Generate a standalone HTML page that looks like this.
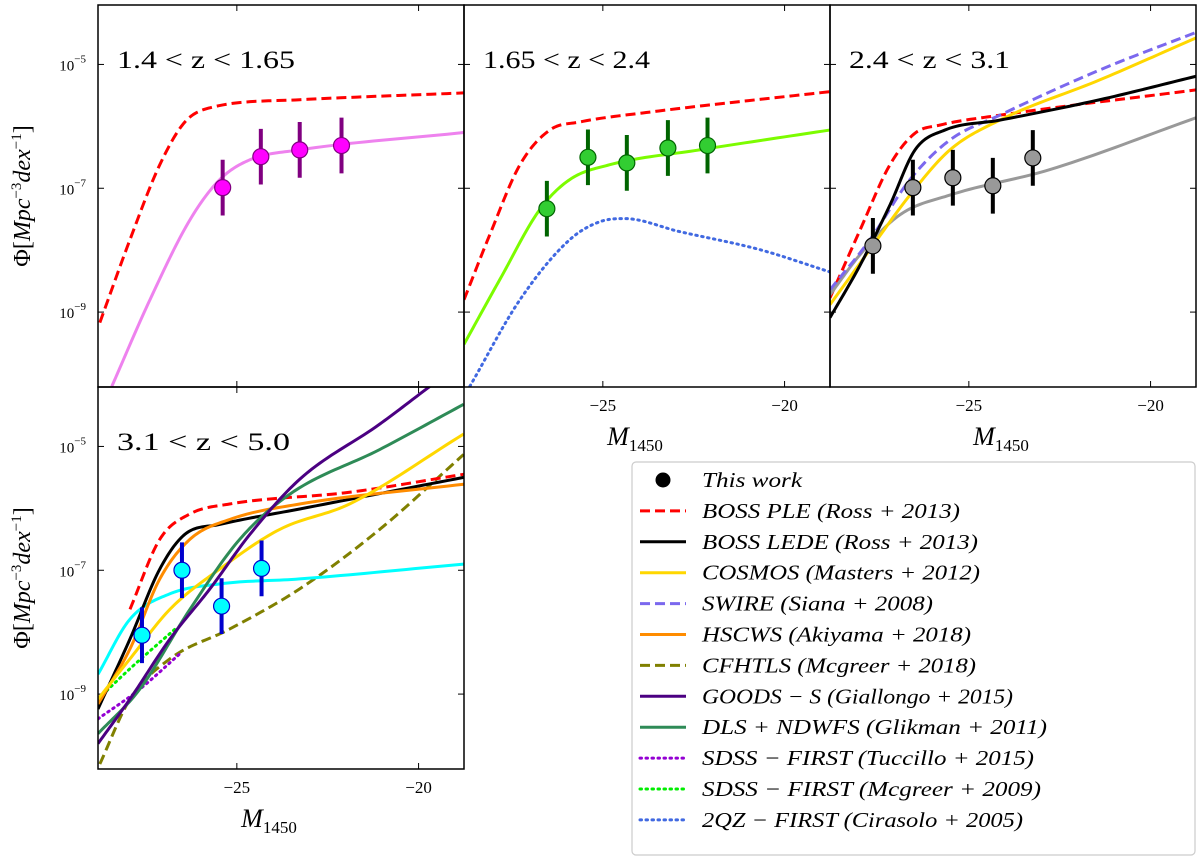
<!DOCTYPE html>
<html><head><meta charset="utf-8"><style>
body{margin:0;background:#fff;}
svg text{font-family:"Liberation Serif",serif;}
</style></head><body>
<svg id="c" width="1200" height="860" xmlns="http://www.w3.org/2000/svg"></svg>
<script>
const xTicks=[-25,-20];
const yTicks=[-5,-7,-9];
const panelTitles=["1.4 < z < 1.65","1.65 < z < 2.4","2.4 < z < 3.1","3.1 < z < 5.0"];
const p1Red=[[-28.77,-9.17],[-27.94,-7.83],[-27.12,-6.62],[-26.43,-5.93],[-25.74,-5.70],[-23.27,-5.57],[-18.76,-5.46]];
const p1Mag=[[-28.44,-10.2],[-27.39,-8.80],[-26.29,-7.51],[-25.47,-6.86],[-24.64,-6.54],[-23.27,-6.38],[-18.76,-6.10]];
const p1PtsM=[-25.39,-24.34,-23.27,-22.12];
const p1PtsPhi=[-6.99,-6.49,-6.38,-6.31];
const p2Red=[[-28.82,-8.80],[-28.11,-7.75],[-27.28,-6.62],[-26.46,-6.06],[-25.64,-5.93],[-23.71,-5.77],[-18.76,-5.44]];
const p2Green=[[-28.82,-9.52],[-27.83,-8.47],[-26.73,-7.34],[-25.91,-6.86],[-24.81,-6.62],[-22.34,-6.38],[-18.76,-6.06]];
const p2Blue=[[-28.66,-10.2],[-27.28,-8.80],[-25.91,-7.83],[-25.08,-7.54],[-24.40,-7.49],[-22.89,-7.70],[-20.69,-7.99],[-18.76,-8.35]];
const p2PtsM=[-26.54,-25.41,-24.34,-23.21,-22.12];
const p2PtsPhi=[-7.33,-6.50,-6.59,-6.35,-6.31];
const p3Red=[[-28.82,-8.77],[-27.99,-7.67],[-27.17,-6.62],[-26.48,-6.11],[-25.80,-5.98],[-24.15,-5.82],[-18.74,-5.41]];
const p3Black=[[-28.82,-9.09],[-27.99,-8.24],[-27.17,-7.27],[-26.48,-6.38],[-25.66,-6.06],[-24.15,-5.90],[-21.40,-5.57],[-18.74,-5.19]];
const p3Yellow=[[-28.82,-8.88],[-27.72,-7.99],[-26.62,-7.11],[-25.52,-6.38],[-24.15,-5.90],[-21.40,-5.25],[-18.74,-4.57]];
const p3Swire=[[-28.82,-8.64],[-27.72,-7.83],[-26.62,-6.86],[-25.52,-6.22],[-24.15,-5.82],[-21.40,-5.09],[-18.74,-4.48]];
const p3Gray=[[-28.82,-8.72],[-27.99,-8.07],[-26.90,-7.43],[-25.52,-7.11],[-22.78,-6.70],[-18.74,-5.86]];
const p3PtsM=[-27.64,-26.54,-25.44,-24.34,-23.24];
const p3PtsPhi=[-7.93,-6.99,-6.83,-6.96,-6.51];
const p4Red=[[-27.94,-7.63],[-27.12,-6.50],[-26.29,-6.09],[-25.20,-5.93],[-21.90,-5.74],[-18.76,-5.45]];
const p4Black=[[-28.82,-9.24],[-27.94,-8.11],[-27.12,-6.98],[-26.43,-6.42],[-25.47,-6.26],[-23.27,-6.01],[-18.76,-5.50]];
const p4Orange=[[-28.82,-9.16],[-27.94,-8.27],[-27.12,-7.14],[-26.29,-6.50],[-25.20,-6.18],[-23.27,-5.93],[-18.76,-5.61]];
const p4Yellow=[[-28.82,-9.08],[-27.94,-8.43],[-26.84,-7.63],[-25.47,-6.98],[-23.82,-6.34],[-21.90,-5.93],[-18.76,-4.80]];
const p4Olive=[[-28.77,-10.13],[-27.94,-9.08],[-26.84,-8.43],[-25.20,-7.95],[-23.27,-7.30],[-21.07,-6.34],[-18.76,-5.13]];
const p4Indigo=[[-28.82,-9.80],[-27.94,-9.08],[-26.84,-8.11],[-25.74,-7.30],[-24.64,-6.42],[-23.27,-5.53],[-21.07,-4.64],[-19.69,-4.03]];
const p4Teal=[[-28.82,-9.64],[-27.67,-8.92],[-26.29,-7.63],[-24.92,-6.50],[-23.54,-5.77],[-21.07,-5.05],[-18.76,-4.32]];
const p4Cyan=[[-28.82,-8.68],[-27.94,-7.79],[-26.84,-7.38],[-25.47,-7.22],[-23.27,-7.14],[-18.76,-6.90]];
const p4Tucc=[[-28.82,-9.40],[-27.67,-8.92],[-26.57,-8.35]];
const p4Mcg=[[-28.82,-9.08],[-27.94,-8.59],[-26.70,-7.95]];
const p4PtsM=[-27.61,-26.51,-25.42,-24.32];
const p4PtsPhi=[-8.05,-7.00,-7.58,-6.97];
const errDex=0.45;

const svg=document.getElementById('c');
const NS="http://www.w3.org/2000/svg";
function mk(tag,attrs,parent){const e=document.createElementNS(NS,tag);for(const k in attrs)e.setAttribute(k,attrs[k]);(parent||svg).appendChild(e);return e;}
const xMin=-28.82,xMax=-18.75,yMin=-10.21,yMax=-4.04;
const panels=[{x:98,y:5},{x:464,y:5},{x:830,y:5},{x:98,y:387}];
const PW=366,PH=382;
const titleLens=[178,167,161,173];
function sx(p,m){return p.x+(m-xMin)/(xMax-xMin)*PW;}
function sy(p,v){return p.y+(yMax-v)/(yMax-yMin)*PH;}
function monotone(pts){
  const n=pts.length,xs=pts.map(a=>a[0]),ys=pts.map(a=>a[1]);
  const d=[],m=[];
  for(let i=0;i<n-1;i++)d.push((ys[i+1]-ys[i])/(xs[i+1]-xs[i]));
  m[0]=d[0];m[n-1]=d[n-2];
  for(let i=1;i<n-1;i++){m[i]=(d[i-1]*d[i]<=0)?0:(d[i-1]+d[i])/2;}
  for(let i=0;i<n-1;i++){
    if(d[i]===0){m[i]=0;m[i+1]=0;continue;}
    const a=m[i]/d[i],b=m[i+1]/d[i],s=a*a+b*b;
    if(s>9){const t=3/Math.sqrt(s);m[i]=t*a*d[i];m[i+1]=t*b*d[i];}
  }
  const out=[];
  for(let i=0;i<n-1;i++){
    const h=xs[i+1]-xs[i];
    for(let k=0;k<20;k++){const t=k/20,t2=t*t,t3=t2*t;
      const y=(2*t3-3*t2+1)*ys[i]+(t3-2*t2+t)*h*m[i]+(-2*t3+3*t2)*ys[i+1]+(t3-t2)*h*m[i+1];
      out.push([xs[i]+t*h,y]);}
  }
  out.push([xs[n-1],ys[n-1]]);
  return out;
}
function path(p,pts){
  return monotone(pts).map((a,i)=>(i?'L':'M')+sx(p,a[0]).toFixed(2)+','+sy(p,a[1]).toFixed(2)).join('');
}
const clipDefs=mk('defs',{});
panels.forEach((p,i)=>{const cp=mk('clipPath',{id:'cl'+i},clipDefs);mk('rect',{x:p.x,y:p.y,width:PW,height:PH},cp);});
function curve(pi,pts,color,style,name){
  const p=panels[pi];
  const e=mk('path',{d:path(p,pts),fill:'none',stroke:color,'stroke-width':3,'clip-path':`url(#cl${pi})`});
  if(style==='dash')e.setAttribute('stroke-dasharray','10,5');
  if(style==='dot'){e.setAttribute('stroke-dasharray','1.5,4.5');e.setAttribute('stroke-linecap','round');}
  
  
}
function points(pi,ms,vs,fill,ec,name){
  const p=panels[pi];
  ms.forEach((m,i)=>{
    const g=mk('g',{});
    
    
    mk('line',{x1:sx(p,m),x2:sx(p,m),y1:sy(p,vs[i]+errDex),y2:sy(p,vs[i]-errDex),stroke:ec,'stroke-width':4},g);
    mk('circle',{cx:sx(p,m),cy:sy(p,vs[i]),r:8,fill:fill,stroke:ec,'stroke-width':1.2},g);
  });
}
panels.forEach((p,i)=>{
  const g=mk('g',{});
  
  
  yTicks.forEach(t=>{const y=sy(p,t);
    mk('line',{x1:p.x,x2:p.x+6,y1:y,y2:y,stroke:'#000','stroke-width':1},g);
    mk('line',{x1:p.x+PW,x2:p.x+PW-6,y1:y,y2:y,stroke:'#000','stroke-width':1},g);
    if(i===0||i===3){
      const tx=mk('text',{x:p.x-12,y:y+6,'font-size':15,'text-anchor':'end'},g);
      tx.textContent='10';
      const s=mk('tspan',{dy:-8,'font-size':11},tx);s.textContent='\u2212'+(-t);
      
      
    }
  });
  xTicks.forEach(t=>{const x=sx(p,t);
    mk('line',{x1:x,x2:x,y1:p.y+PH,y2:p.y+PH-6,stroke:'#000','stroke-width':1},g);
    mk('line',{x1:x,x2:x,y1:p.y,y2:p.y+6,stroke:'#000','stroke-width':1},g);
    if(i!==0){
      const tx=mk('text',{x:x,y:p.y+PH+24,'font-size':17,'text-anchor':'middle'},g);
      tx.textContent='\u2212'+(-t);
      
      
    }
  });
  const tt=mk('text',{x:p.x+19,y:p.y+63,'font-size':25,textLength:titleLens[i],lengthAdjust:'spacingAndGlyphs'},g);
  tt.textContent=panelTitles[i];
  
  
  if(i>0){const xl=mk('text',{x:p.x+PW/2-12,y:p.y+PH+58,'font-size':26,'font-style':'italic','text-anchor':'middle'},g);
    xl.textContent='M';const s=mk('tspan',{'font-size':17,'font-style':'normal',dy:6},xl);s.textContent='1450';
    }
  if(i===0||i===3){const cx=30,cy=p.y+PH/2;
    const yl=mk('text',{x:cx,y:cy,'font-size':24,'text-anchor':'middle',transform:`rotate(-90 ${cx} ${cy})`},g);
    yl.innerHTML='Φ[<tspan font-style="italic">Mpc</tspan><tspan dy="-9" font-size="15">−3</tspan><tspan dy="9" font-style="italic">dex</tspan><tspan dy="-9" font-size="15">−1</tspan><tspan dy="9">]</tspan>';
    }
});
curve(0,p1Red,'#ff0000','dash','boss-ple-curve');
curve(0,p1Mag,'#ee82ee','solid','fit-curve-z1');
points(0,p1PtsM,p1PtsPhi,'#ff00ff','#800080','data-point-z1');
curve(1,p2Red,'#ff0000','dash','boss-ple-curve');
curve(1,p2Blue,'#4169e1','dot','2qz-first-curve');
curve(1,p2Green,'#7cfc00','solid','fit-curve-z2');
points(1,p2PtsM,p2PtsPhi,'#32cd32','#006400','data-point-z2');
curve(2,p3Red,'#ff0000','dash','boss-ple-curve');
curve(2,p3Gray,'#999999','solid','fit-curve-z3');
curve(2,p3Yellow,'#ffd700','solid','cosmos-curve');
curve(2,p3Swire,'#7b68ee','dash','swire-curve');
curve(2,p3Black,'#000000','solid','boss-lede-curve');
points(2,p3PtsM,p3PtsPhi,'#999999','#000000','data-point-z3');
curve(3,p4Olive,'#808000','dash','cfhtls-curve');
curve(3,p4Tucc,'#9400d3','dot','sdss-first-tuccillo-curve');
curve(3,p4Mcg,'#00ee00','dot','sdss-first-mcgreer-curve');
curve(3,p4Cyan,'#00ffff','solid','fit-curve-z4');
curve(3,p4Red,'#ff0000','dash','boss-ple-curve');
curve(3,p4Black,'#000000','solid','boss-lede-curve');
curve(3,p4Orange,'#ff8c00','solid','hscws-curve');
curve(3,p4Yellow,'#ffd700','solid','cosmos-curve');
curve(3,p4Teal,'#2e8b57','solid','dls-ndwfs-curve');
curve(3,p4Indigo,'#4b0082','solid','goods-s-curve');
points(3,p4PtsM,p4PtsPhi,'#00ffff','#0000cd','data-point-z4');
panels.forEach(p=>mk('rect',{x:p.x,y:p.y,width:PW,height:PH,fill:'none',stroke:'#000','stroke-width':1.5}));
const legendLabels=[["This work",""],["BOSS PLE","Ross + 2013"],["BOSS LEDE","Ross + 2013"],["COSMOS","Masters + 2012"],["SWIRE","Siana + 2008"],["HSCWS","Akiyama + 2018"],["CFHTLS","Mcgreer + 2018"],["GOODS − S","Giallongo + 2015"],["DLS + NDWFS","Glikman + 2011"],["SDSS − FIRST","Tuccillo + 2015"],["SDSS − FIRST","Mcgreer + 2009"],["2QZ − FIRST","Cirasolo + 2005"]];
const legendColors=['#000','#ff0000','#000000','#ffd700','#7b68ee','#ff8c00','#808000','#4b0082','#2e8b57','#9400d3','#00ee00','#4169e1'];
const legendStyles=['pt','dash','solid','solid','dash','solid','dash','solid','solid','dot','dot','dot'];
const legendEnds=[802,960,978,980,933,971,976,1013,1047,1034,1041,1023];
const lg=mk('g',{});


mk('rect',{x:632,y:462,width:563,height:393,rx:4,fill:'#fff',stroke:'#ccc','stroke-width':1.2},lg);
legendLabels.forEach((l,i)=>{
  const y=480+i*30.9;
  const g=mk('g',{},lg);
  
  
  if(legendStyles[i]==='pt')mk('circle',{cx:663,cy:y,r:7.5,fill:'#000'},g);
  else{const ln=mk('line',{x1:640,x2:686,y1:y,y2:y,stroke:legendColors[i],'stroke-width':3},g);
    if(legendStyles[i]==='dash')ln.setAttribute('stroke-dasharray','10,5');
    if(legendStyles[i]==='dot'){ln.setAttribute('stroke-dasharray','1.5,4.5');ln.setAttribute('stroke-linecap','round');}}
  const t=mk('text',{x:702,y:y+7,'font-size':21,'font-style':'italic',textLength:legendEnds[i]-702,lengthAdjust:'spacingAndGlyphs'},g);
  t.textContent=l[1]?`${l[0]} (${l[1]})`:l[0];
});
</script>
</body></html>
